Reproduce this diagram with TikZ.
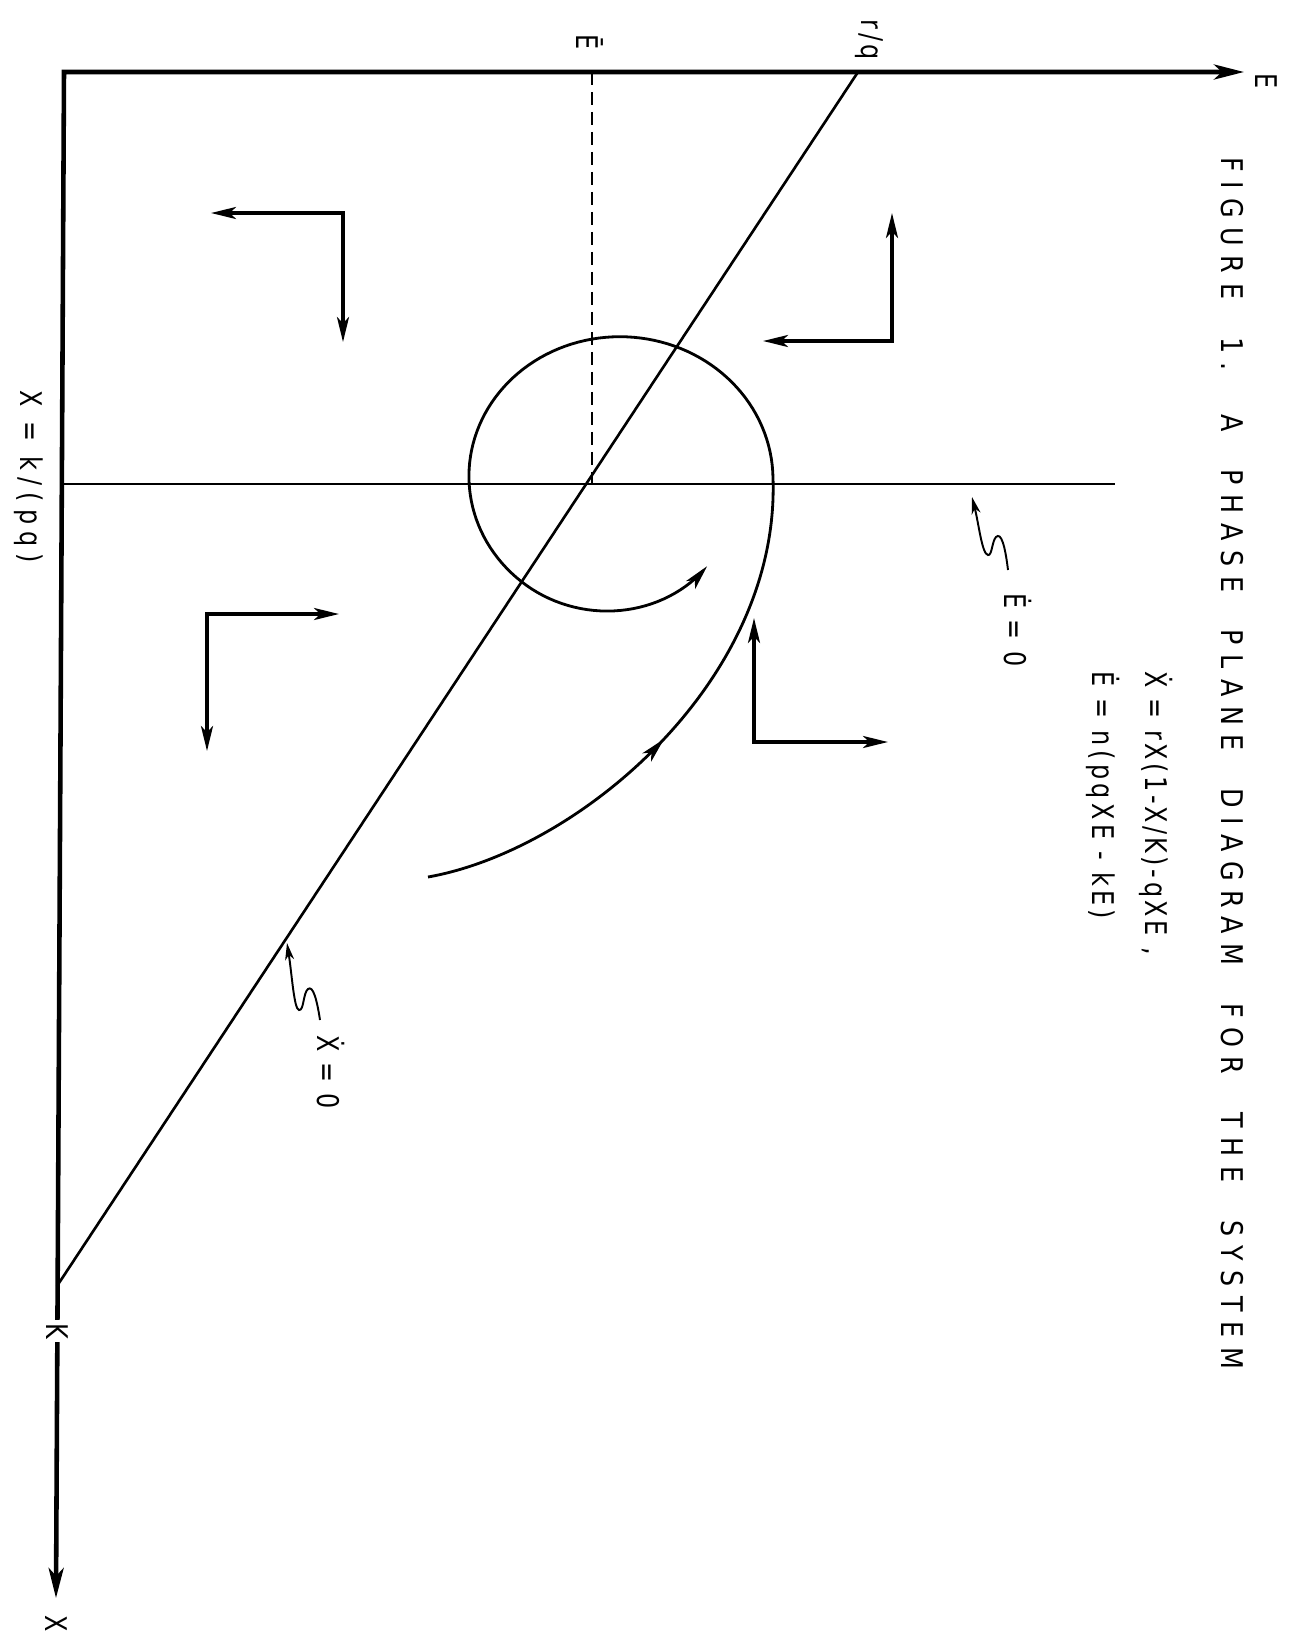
\documentclass[tikz,border=0pt]{standalone}
\usepackage{fontspec}
\setmainfont{DejaVu Sans}
\newfontfamily\leroy[FakeStretch=0.8,LetterSpace=12]{DejaVu Sans}
\newfontfamily\leroyloose[FakeStretch=0.8,LetterSpace=15]{DejaVu Sans}
\newfontfamily\leroyspaced[FakeStretch=0.8,LetterSpace=24]{DejaVu Sans}
\newfontfamily\leroywide[FakeStretch=0.85,LetterSpace=32,WordSpace=2.15]{DejaVu Sans}
\usetikzlibrary{arrows.meta, decorations.markings}

\tikzset{
  every node/.style={font=\leroy\fontsize{17}{20}\selectfont, inner sep=0pt},
  lbl/.style={rotate=-90},
  axis/.style={
    line width=2.6pt, line join=miter,
    {Stealth[length=6mm,width=3mm,inset=1.6mm]}-{Stealth[length=6mm,width=3mm,inset=1.6mm]}
  },
  isocline/.style={line width=1.5pt},
  guide/.style={line width=1.6pt, dash pattern=on 2.6mm off 1.4mm},
  flow/.style={
    line width=2.1pt, line join=miter,
    {Stealth[length=5mm,width=2.4mm,inset=1.3mm]}-{Stealth[length=5mm,width=2.4mm,inset=1.3mm]}
  },
  orbit/.style={line width=1.6pt, -{Stealth[length=5mm,width=2.4mm,inset=1.3mm]}},
  tag/.style={line width=1.1pt, -{Stealth[length=3.4mm,width=1.8mm,inset=1mm]}},
}

\begin{document}
\begin{tikzpicture}[x=0.02cm, y=-0.02cm]
  \useasboundingbox (0,0) rectangle (1315,1637);

  % Axes
  \coordinate (O) at (64,72);
  \coordinate (Etip) at (1244,72);
  \coordinate (Xtip) at (56,1598);
  \draw[axis] (Etip) -- (O) -- (Xtip);
  \node[lbl] (Elab) at (1266,81) {E};
  \node[lbl] (Xlab) at (56,1624) {X};

  % Isoclines and equilibrium
  \coordinate (rq) at (858,72);
  \coordinate (K) at (57,1286);
  \coordinate (eq) at (592,484);
  \draw[isocline] (rq) -- (K);
  \draw[isocline] (O |- eq) -- (1115,484);
  \draw[guide] (eq |- O) -- (eq);

  \node[lbl] (Ebar) at (590,42) {Ē};
  \node[lbl] (rqlab) at (869,40) {r/q};
  \node[lbl, fill=white, inner sep=2pt] (Klab) at (57,1331) {K};
  \node[lbl, font=\leroyspaced\fontsize{17}{20}\selectfont] (Xstar) at (29,477) {X = k/(pq)};

  % Direction of motion in each region
  \foreach \ax/\ay/\cx/\cy/\bx/\by in {211/213/343/213/343/342, 892/213/892/341/763/341,
                                       339/614/207/614/207/751, 754/618/754/742/888/742}
    \draw[flow] (\ax,\ay) -- (\cx,\cy) -- (\bx,\by);

  % Trajectory spiralling in
  \draw[orbit, postaction={decorate},
        decoration={markings, mark=at position 0.205 with {\arrow{Stealth[length=5mm,width=2.4mm,inset=1.3mm]}}}]
    (428,877) .. controls (580,850) and (780,680) .. (773,478)
    -- plot[domain=0:313, samples=120, variable=\t]
      ({618+(155-0.033*\t-14*(max(0,\t-230)/83)^2)*cos(\t)},
       {478-(144-0.03*\t-14*(max(0,\t-230)/83)^2)*sin(\t)});

  % Isocline labels
  \node[lbl] (Edot) at (1018,630) {Ė = 0};
  \coordinate (EdotTail) at (1008,570);
  \coordinate (EdotTip) at (972,497);
  \draw[tag] (EdotTail) .. controls (1005,545) and (1001,532) .. (996,537)
    .. controls (992,541) and (992,556) .. (988,555)
    .. controls (982,554) and (979,525) .. (EdotTip);

  \node[lbl] (Xdot) at (331,1072) {Ẋ = 0};
  \coordinate (XdotTail) at (320,1020);
  \coordinate (XdotTip) at (287,943);
  \draw[tag] (XdotTail) .. controls (317,1000) and (313,985) .. (308,989)
    .. controls (303,993) and (304,1011) .. (299,1010)
    .. controls (294,1009) and (292,975) .. (XdotTip);

  % Caption
  \node[lbl, anchor=base west, font=\leroywide\fontsize{17}{20}\selectfont] (title) at (1221,157)
    {FIGURE 1. A PHASE PLANE DIAGRAM FOR THE SYSTEM};
  \node[lbl, anchor=base west] (eqX) at (1145,671) {Ẋ = rX(1-X/K)-qXE ,};
  \node[lbl, anchor=base west, font=\leroyloose\fontsize{17}{20}\selectfont] (eqE) at (1092,671)
    {Ė = n(pqXE - kE)};
\end{tikzpicture}
\end{document}
